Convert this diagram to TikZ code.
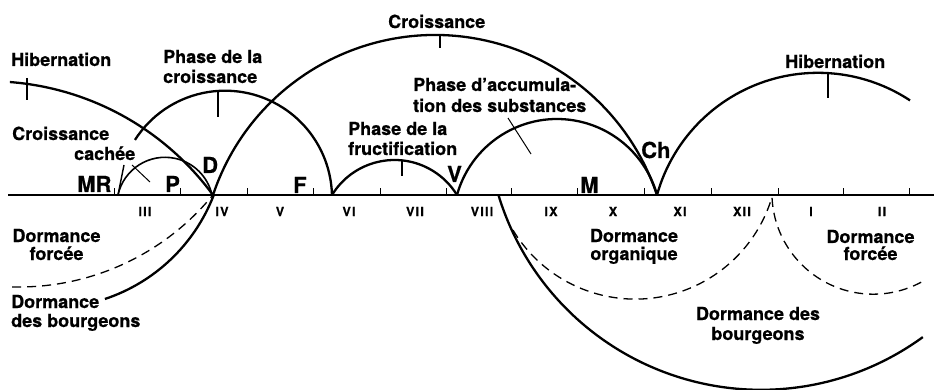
\documentclass[tikz,border=0pt]{standalone}
\usepackage{fontspec}
\setmainfont{TeX Gyre Heros}[BoldFeatures={FakeBold=0.6}]
\newfontfamily\monfont[LetterSpace=10,BoldFeatures={FakeBold=0.8}]{TeX Gyre Heros}
\begin{document}
\begin{tikzpicture}[x=1pt,y=-1pt,
  curve/.style={line width=2.3pt},
  thincurve/.style={line width=1.6pt},
  dashcurve/.style={line width=1.3pt,dash pattern=on 9pt off 6pt},
  axisline/.style={line width=1.2pt},
  tickmark/.style={line width=1pt},
  lab/.style={font=\bfseries\fontsize{18}{20}\selectfont,inner sep=0pt},
  big/.style={font=\bfseries\fontsize{22}{24}\selectfont,inner sep=0pt,anchor=base west},
  mon/.style={font=\monfont\bfseries\fontsize{12.5}{14}\selectfont,inner sep=0pt,anchor=base}]
\useasboundingbox (0,0) rectangle (934,390);
\fill[white] (0,0) rectangle (934,390);

% axis
\draw[axisline] (8,195) -- (934,195);
\foreach \x in {114,180,247,313,380,446,511,577,644,711,778,843,909}
  \draw[tickmark] (\x,195) -- (\x,188);

% upper arcs
\draw[curve] (-11.5,359.5) ++(-85.6:278.3) arc[start angle=-85.6,end angle=-36.2,radius=278.3];
\draw[tickmark,line width=1.2pt] (27,78) -- (27,100);
\draw[thincurve] (165,205.5) ++(-167.4:48.2) arc[start angle=-167.4,end angle=-12.6,radius=48.2];
\draw[tickmark,line width=1.4pt] (118,195) -- (124,165);
\draw[tickmark] (132,165) -- (150,182);
\draw[curve] (225,197.7) ++(-147.3:107) arc[start angle=-147.3,end angle=-1.4,radius=107];
\draw[tickmark,line width=1.2pt] (218,90) -- (218,117);
\draw[curve] (435,269) ++(-161.6:234) arc[start angle=-161.6,end angle=-18.4,radius=234];
\draw[tickmark,line width=1.2pt] (440,35) -- (440,48);
\draw[curve] (394.5,233.3) ++(-148.5:73.3) arc[start angle=-148.5,end angle=-31.5,radius=73.3];
\draw[tickmark,line width=1.2pt] (402,160) -- (402,176);
\draw[curve] (557,222.8) ++(-164.5:103.8) arc[start angle=-164.5,end angle=-15.5,radius=103.8];
\draw[tickmark] (508,118) -- (531,154);
\draw[curve] (818,240) ++(-164.4:167.2) arc[start angle=-164.4,end angle=-56.6,radius=167.2];
\draw[tickmark,line width=1.2pt] (828,72) -- (828,98);

% lower arcs
\draw[dashcurve] (18.7,36) ++(91.5:251) arc[start angle=91.5,end angle=39.3,radius=251];
\draw[curve] (49.3,131.8) ++(21.1:176.2) arc[start angle=21.1,end angle=71.6,radius=176.2];
\draw[curve] (761.1,115.3) ++(163.1:274.5) arc[start angle=163.1,end angle=53.9,radius=274.5];
\draw[dashcurve] (635.2,156.4) ++(148.9:142.7) arc[start angle=148.9,end angle=16.5,radius=142.7];
\draw[dashcurve] (873.3,192.8) ++(177.1:101.4) arc[start angle=177.1,end angle=59.3,radius=101.4];

% labels
\node[lab,anchor=base west] (hibL) at (11,66) {Hibernation};
\node[lab,anchor=base west] (pcA) at (163,63) {Phase de la};
\node[lab,anchor=base west] (pcB) at (163,83) {croissance};
\node[lab,anchor=base west] (cro) at (388,28) {Croissance};
\node[lab,anchor=base west] (paA) at (413,91) {Phase d'accumula-};
\node[lab,anchor=base west] (paB) at (413,112) {tion des substances};
\node[lab,anchor=base west] (pfA) at (348,135) {Phase de la};
\node[lab,anchor=base west] (pfB) at (348,155) {fructification};
\node[lab,anchor=base west] (ccA) at (12,140) {Croissance};
\node[lab,anchor=base west] (ccB) at (74,160) {cachée};
\node[lab,anchor=base west] (hibR) at (785,68) {Hibernation};
\node[lab,anchor=base] (dfA) at (56.5,242) {Dormance};
\node[lab,anchor=base] (dfB) at (56.5,260) {forcée};
\node[lab,anchor=base west] (dbA) at (11,308) {Dormance};
\node[lab,anchor=base west] (dbB) at (11,327) {des bourgeons};
\node[lab,anchor=base] (doA) at (634,242) {Dormance};
\node[lab,anchor=base] (doB) at (634,260) {organique};
\node[lab,anchor=base] (drA) at (870.5,243) {Dormance};
\node[lab,anchor=base] (drB) at (870.5,260) {forcée};
\node[lab,anchor=base] (dbrA) at (758,320) {Dormance des};
\node[lab,anchor=base] (dbrB) at (758,340) {bourgeons};

% point letters
\node[big] (mr) at (77,192) {MR};
\node[big] (p) at (165,192) {P};
\node[big] (d) at (202,173) {D};
\node[big] (f) at (293,193) {F};
\node[big] (v) at (447,182) {V};
\node[big] (m) at (580,193) {M};
\node[big] (ch) at (641,158) {Ch};

% months
\node[mon] (m3) at (145,216) {III};
\node[mon] (m4) at (222,216) {IV};
\node[mon] (m5) at (280,216) {V};
\node[mon] (m6) at (349,216) {VI};
\node[mon] (m7) at (415,216) {VII};
\node[mon] (m8) at (482,216) {VIII};
\node[mon] (m9) at (551,216) {IX};
\node[mon] (m10) at (613,216) {X};
\node[mon] (m11) at (680,216) {XI};
\node[mon] (m12) at (742,216) {XII};
\node[mon] (m1) at (811,216) {I};
\node[mon] (m2) at (882,216) {II};
\end{tikzpicture}
\end{document}
